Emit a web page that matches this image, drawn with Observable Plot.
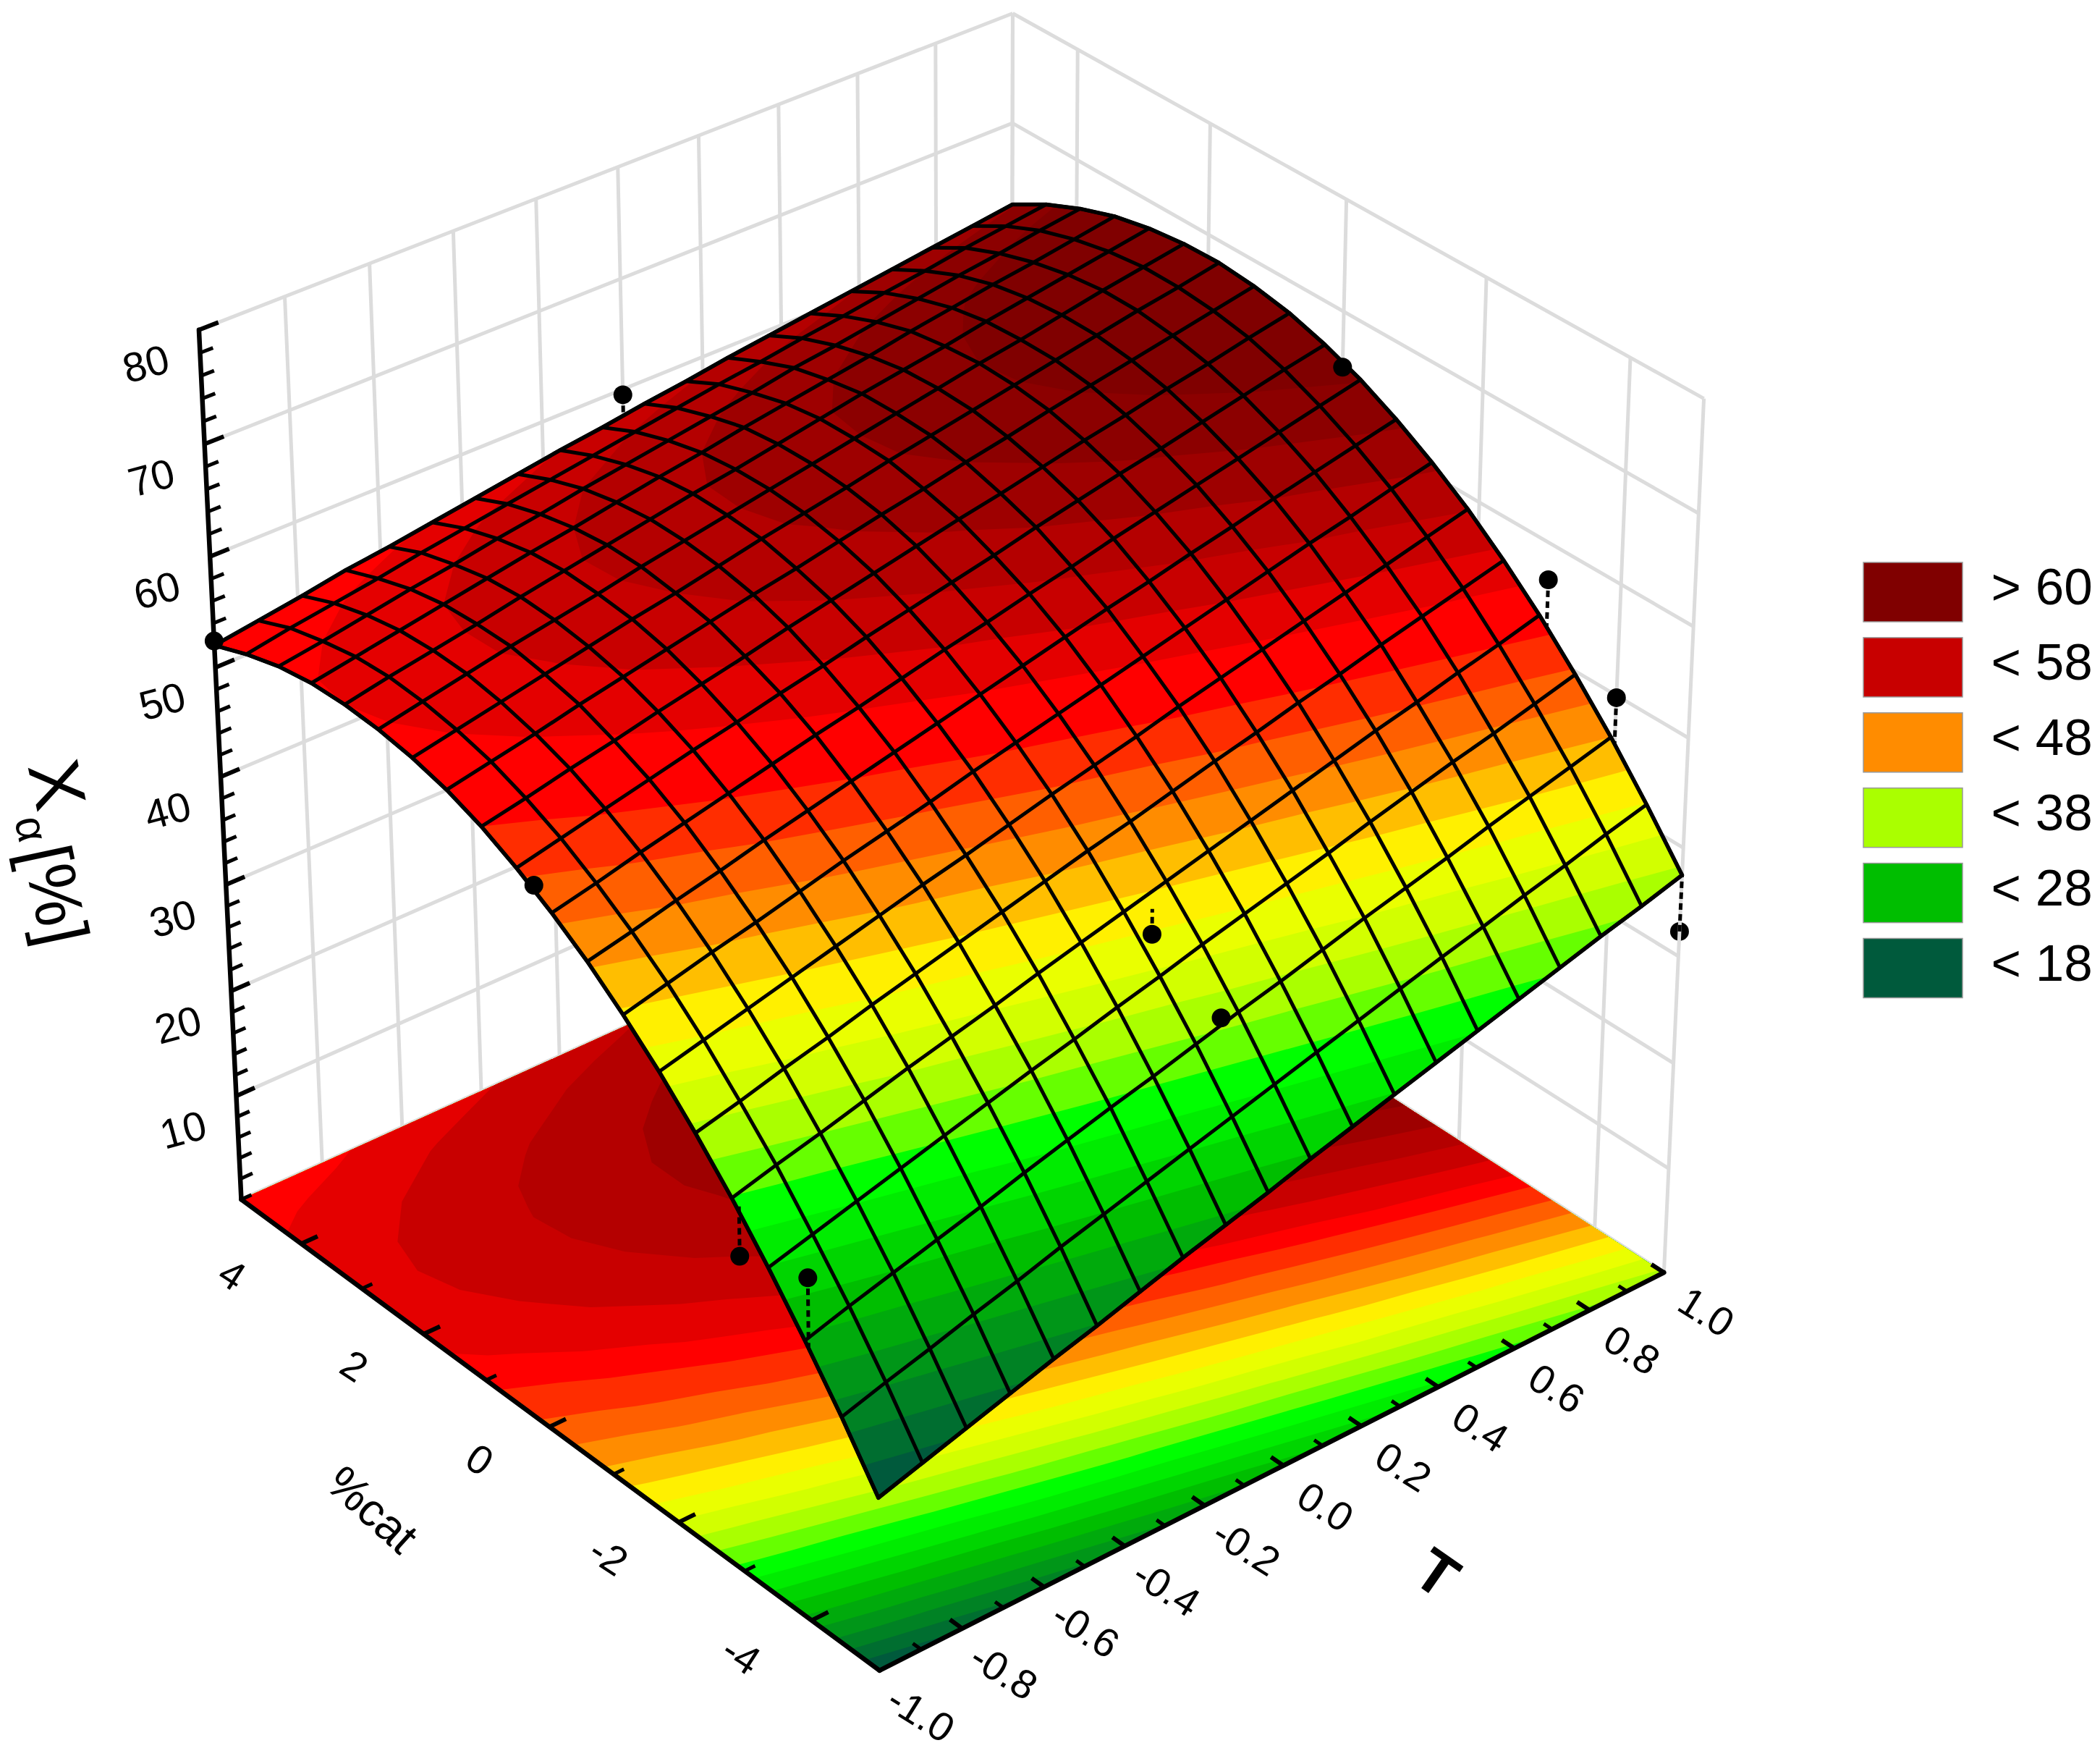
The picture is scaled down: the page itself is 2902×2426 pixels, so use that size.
<!DOCTYPE html>
<html>
<head>
<meta charset="utf-8">
<style>html,body{margin:0;padding:0;background:#fff}svg{display:block}</style>
<script src="https://cdn.jsdelivr.net/npm/d3@7"></script>
<script src="https://cdn.jsdelivr.net/npm/@observablehq/plot@0.6"></script>
</head>
<body>
<div id="chart"></div>
<script>
// ---- Data ----
// Surface heights Xa [%]: one row per T node (T = -1 ... 1), one column per %cat node (-5 ... 5)
const surfaceRows = [
[16.0,21.0,25.6,29.9,33.9,37.5,40.8,43.7,46.3,48.5,50.4,52.0,53.2,54.0,54.5,54.7,54.6,54.1,53.2,52.0],
[17.2,22.2,26.8,31.0,35.0,38.5,41.8,44.7,47.2,49.4,51.3,52.8,54.0,54.8,55.3,55.5,55.3,54.7,53.9,52.6],
[18.4,23.3,27.9,32.1,36.0,39.6,42.8,45.7,48.2,50.4,52.2,53.7,54.8,55.6,56.1,56.2,56.0,55.4,54.5,53.2],
[19.6,24.5,29.0,33.2,37.1,40.6,43.8,46.6,49.1,51.3,53.1,54.5,55.7,56.4,56.9,56.9,56.7,56.1,55.1,53.9],
[20.8,25.6,30.1,34.3,38.2,41.7,44.8,47.6,50.1,52.2,54.0,55.4,56.5,57.2,57.6,57.7,57.4,56.7,55.8,54.4],
[21.9,26.8,31.3,35.4,39.2,42.7,45.8,48.6,51.0,53.1,54.8,56.2,57.3,58.0,58.3,58.4,58.1,57.4,56.4,55.0],
[23.1,27.9,32.4,36.5,40.2,43.7,46.8,49.5,51.9,54.0,55.7,57.0,58.1,58.7,59.1,59.1,58.7,58.0,57.0,55.6],
[24.3,29.0,33.5,37.5,41.3,44.7,47.7,50.4,52.8,54.8,56.5,57.9,58.9,59.5,59.8,59.8,59.4,58.7,57.6,56.2],
[25.4,30.1,34.5,38.6,42.3,45.7,48.7,51.4,53.7,55.7,57.4,58.7,59.6,60.3,60.5,60.5,60.1,59.3,58.2,56.8],
[26.5,31.2,35.6,39.6,43.3,46.7,49.7,52.3,54.6,56.6,58.2,59.5,60.4,61.0,61.2,61.1,60.7,59.9,58.8,57.3],
[27.7,32.3,36.7,40.7,44.3,47.6,50.6,53.2,55.5,57.4,59.0,60.3,61.2,61.7,61.9,61.8,61.4,60.5,59.4,57.9],
[28.8,33.4,37.7,41.7,45.3,48.6,51.5,54.1,56.4,58.3,59.8,61.1,61.9,62.5,62.6,62.5,62.0,61.1,60.0,58.4],
[29.9,34.5,38.8,42.7,46.3,49.6,52.5,55.0,57.3,59.1,60.7,61.8,62.7,63.2,63.3,63.2,62.6,61.8,60.5,59.0],
[31.0,35.6,39.9,43.7,47.3,50.5,53.4,55.9,58.1,60.0,61.5,62.6,63.4,63.9,64.0,63.8,63.2,62.3,61.1,59.5],
[32.1,36.7,40.9,44.8,48.3,51.5,54.3,56.8,59.0,60.8,62.3,63.4,64.2,64.6,64.7,64.4,63.9,62.9,61.6,60.0],
[33.2,37.7,41.9,45.8,49.3,52.4,55.2,57.7,59.8,61.6,63.0,64.1,64.9,65.3,65.3,65.1,64.5,63.5,62.2,60.5],
[34.3,38.8,43.0,46.8,50.2,53.4,56.1,58.6,60.7,62.4,63.8,64.9,65.6,66.0,66.0,65.7,65.1,64.1,62.7,61.0],
[35.4,39.8,44.0,47.7,51.2,54.3,57.0,59.4,61.5,63.2,64.6,65.6,66.3,66.7,66.7,66.3,65.6,64.6,63.3,61.5],
[36.4,40.9,45.0,48.7,52.1,55.2,57.9,60.3,62.3,64.0,65.4,66.4,67.0,67.3,67.3,66.9,66.2,65.2,63.8,62.0],
[37.5,41.9,46.0,49.7,53.1,56.1,58.8,61.1,63.1,64.8,66.1,67.1,67.7,68.0,67.9,67.5,66.8,65.7,64.3,62.5]
];
// Experimental points
const pointT   = [-1, 0, 1, 1, 1, 1, 0, 0, -1, -1, -1];
const pointCat = [ 5, 5, 0,-3,-4,-5,-3,-4,  0, -3, -4];
const pointX   = [52.4,59.5,65.0,56.7,49.8,32.3,40.8,37.3,49.9,29.1,31.5];
const pointFit = [52.4,57.6,65.0,52.4,45.6,37.5,43.1,37.9,49.9,33.6,25.2];
// Colour bands
const floorLevels   = [18,20,22,24,26,28,30,32,34,36,38,40,42,44,46,48,50,52,53.6,55.6,57.6,59.6,61.6,63.6];
const surfaceLevels = [18,20,22,24,26,28,30,32,34,36,38,40,42,44,46,48,50,52,54.7,56.7,58.7,60.7,62.7,64.7];
const bandColors = ["#005a3c","#006e30","#008224","#009618","#00aa0c","#00be00","#00d500","#00ec00","#00ff00","#66ff00","#aaff00","#d2ff00","#eaff00","#fff000","#ffbe00","#ff8c00","#ff5f00","#ff2d00","#ff0000","#e40000","#c80000","#b40000","#9e0000","#8c0000","#800000"];
// Legend
const legendLabels = ["> 60","< 58","< 48","< 38","< 28","< 18"];
const legendColors = ["#800000","#c80000","#ff8c00","#aaff00","#00be00","#005a3c"];
// Axis ticks
const zMajor = [10,20,30,40,50,60,70,80];
const zMinor = [2,4,6,8,12,14,16,18,22,24,26,28,32,34,36,38,42,44,46,48,52,54,56,58,62,64,66,68,72,74,76,78];
const catMajor = [4,2,0,-2,-4];
const catMinor = [5,3,1,-1,-3];
const tMajor = [-0.8,-0.6,-0.4,-0.2,0,0.2,0.4,0.6,0.8,1];
const tMinor = [-0.9,-0.7,-0.5,-0.3,-0.1,0.1,0.3,0.5,0.7,0.9];
const tLabels = ["-1.0","-0.8","-0.6","-0.4","-0.2","0.0","0.2","0.4","0.6","0.8","1.0"];
const tLabelValues = [-1,-0.8,-0.6,-0.4,-0.2,0,0.2,0.4,0.6,0.8,1];
const catLabels = ["4","2","0","-2","-4"];

// ---- Perspective camera fitted to the box of the picture: [T, cat, z] -> [px, py] ----
const camera = [
  [-1, 5, 0, 332,1657],[-1, 5,80, 275, 455],[-1, 5,40, 305,1073],[-1, 5,70, 282, 613],
  [-1,-5, 0,1215,2307],[ 1,-5, 0,2298,1758],[ 1,-5,80,2355, 550],
  [ 1, 5,80,1398,  18],[ 1, 5,70,1398, 170],[ 1, 5, 0,1398,1176]
];
function solveCamera(pts){
  const rows=[],rhs=[];
  for(const [T,c,z,px,py] of pts){
    const X=T,Y=c/5,Z=z/40-1,u=px/1000,v=py/1000;
    rows.push([X,Y,Z,1,0,0,0,0,-u*X,-u*Y,-u*Z]);rhs.push(u);
    rows.push([0,0,0,0,X,Y,Z,1,-v*X,-v*Y,-v*Z]);rhs.push(v);
  }
  const n=11,M=d3.range(n).map(a=>d3.range(n+1).map(b=>{
    let s=0;for(let k=0;k<rows.length;k++)s+=rows[k][a]*(b<n?rows[k][b]:rhs[k]);return s;}));
  for(let a=0;a<n;a++){
    let p=a;for(let r=a+1;r<n;r++)if(Math.abs(M[r][a])>Math.abs(M[p][a]))p=r;
    [M[a],M[p]]=[M[p],M[a]];
    for(let r=0;r<n;r++){if(r===a)continue;const f=M[r][a]/M[a][a];for(let b=a;b<=n;b++)M[r][b]-=f*M[a][b];}
  }
  return M.map((r,a)=>r[n]/r[a]);
}
const h=solveCamera(camera);
function P(T,c,z){
  const X=T,Y=c/5,Z=z/40-1,w=h[8]*X+h[9]*Y+h[10]*Z+1;
  return [1000*(h[0]*X+h[1]*Y+h[2]*Z+h[3])/w,1000*(h[4]*X+h[5]*Y+h[6]*Z+h[7])/w];
}
const N=surfaceRows.length,nodeT=i=>-1+2*i/(N-1),nodeC=j=>-5+10*j/(N-1);
function zAt(j,i){
  const j0=Math.min(Math.floor(j),N-2),i0=Math.min(Math.floor(i),N-2),a=j-j0,b=i-i0;
  return (1-b)*((1-a)*surfaceRows[i0][j0]+a*surfaceRows[i0][j0+1])+b*((1-a)*surfaceRows[i0+1][j0]+a*surfaceRows[i0+1][j0+1]);
}
const row=(id,T,c,z)=>{const p=P(T,c,z);return {id,x:p[0],y:p[1]};};
const seg=(T1,c1,z1,T2,c2,z2)=>{const a=P(T1,c1,z1),b=P(T2,c2,z2);return {x1:a[0],y1:a[1],x2:b[0],y2:b[1]};};

// ---- Bands, on the floor and on the surface ----
const flat=surfaceRows.flat();
const gen=d3.contours().size([N,N]).smooth(true);
function bandRows(onSurface){
  const levels=onSurface?surfaceLevels:floorLevels;
  const clamp=v=>Math.max(0,Math.min(N-1,v-0.5));
  const out=[];
  const whole=[];
  for(let j=0;j<N;j++)whole.push([j,0]);
  for(let i=1;i<N;i++)whole.push([N-1,i]);
  for(let j=N-2;j>=0;j--)whole.push([j,N-1]);
  for(let i=N-2;i>0;i--)whole.push([0,i]);
  const toRow=(id,j,i)=>row(id,nodeT(i),nodeC(j),onSurface?zAt(j,i):0);
  out.push({color:bandColors[0],rows:whole.map(([j,i])=>toRow("b",j,i))});
  levels.forEach((t,k)=>{
    const rows=[];
    gen.contour(flat,t).coordinates.forEach((poly,pi)=>{
      poly[0].forEach(([gx,gy])=>rows.push(toRow("p"+pi,clamp(gx),clamp(gy))));
    });
    out.push({color:bandColors[k+1],rows});
  });
  return out;
}
const bandMarks=list=>list.filter(b=>b.rows.length).map(b=>Plot.line(b.rows,{x:"x",y:"y",z:"id",fill:b.color,stroke:"none"}));

// ---- Mesh ----
const mesh=[],edge=[];
for(let i=0;i<N;i++)for(let j=0;j<N;j++)mesh.push(row("T"+i,nodeT(i),nodeC(j),surfaceRows[i][j]));
for(let j=0;j<N;j++)for(let i=0;i<N;i++)mesh.push(row("C"+j,nodeT(i),nodeC(j),surfaceRows[i][j]));
for(let j=0;j<N;j++)edge.push(row("e",nodeT(0),nodeC(j),surfaceRows[0][j]));
for(let i=1;i<N;i++)edge.push(row("e",nodeT(i),nodeC(N-1),surfaceRows[i][N-1]));
for(let j=N-2;j>=0;j--)edge.push(row("e",nodeT(N-1),nodeC(j),surfaceRows[N-1][j]));
for(let i=N-2;i>=0;i--)edge.push(row("e",nodeT(i),nodeC(0),surfaceRows[i][0]));

// ---- Walls ----
const wallCat=[5,4,2,0,-2,-4,-5];
const wall=[];
[0,...zMajor].forEach(z=>{wall.push(seg(-1,5,z,1,5,z));wall.push(seg(1,5,z,1,-5,z));});
tLabelValues.slice(1).forEach(T=>wall.push(seg(T,5,0,T,5,80)));
wallCat.forEach(c=>wall.push(seg(1,c,0,1,c,80)));

// ---- Points ----
const points=pointT.map((T,k)=>{const p=P(T,pointCat[k],pointX[k]),q=P(T,pointCat[k],pointFit[k]);
  return {x:p[0],y:p[1],x2:q[0],y2:q[1],T,cat:pointCat[k]};});
const hiddenPoint=points.filter(d=>d.T===1&&d.cat===-5);
const shownPoints=points.filter(d=>!(d.T===1&&d.cat===-5));

const ff="'Liberation Sans', Arial, sans-serif";
const legendTop=777,legendStep=103.9,legendH=82;
const legend=legendLabels.map((label,k)=>({label,color:legendColors[k],y1:legendTop+k*legendStep,y2:legendTop+k*legendStep+legendH,ym:legendTop+k*legendStep+legendH/2}));

const zLab=zMajor.map(z=>{const p=P(-1,5,z);return {x:p[0],y:p[1],t:String(z)};});
const catLab=catMajor.map((c,k)=>{const p=P(-1.17,c,0);return {x:p[0],y:p[1],t:catLabels[k]};});
const tLab=tLabelValues.map((T,k)=>{const p=P(T,-5.7,0);return {x:p[0],y:p[1],t:tLabels[k]};});

const chart=Plot.plot({
  width:2902,height:2426,margin:0,
  x:{domain:[0,2902],range:[0,2902],axis:null},
  y:{domain:[0,2426],range:[0,2426],axis:null},
  style:{background:"#fff",fontFamily:ff,color:"#000"},
  marks:[
    Plot.dot(hiddenPoint,{x:"x",y:"y",r:13,fill:"#000"}),
    Plot.link(wall,{x1:"x1",y1:"y1",x2:"x2",y2:"y2",stroke:"#dcdcdc",strokeWidth:5}),
    ...bandMarks(bandRows(false)),
    // axes
    Plot.link([seg(-1,5,0,-1,5,80),seg(-1,5,0,-1,-5,0),seg(-1,-5,0,1,-5,0)],{x1:"x1",y1:"y1",x2:"x2",y2:"y2",stroke:"#000",strokeWidth:6.5,strokeLinecap:"round"}),
    Plot.link(zMajor.map(z=>seg(-1,5,z,-0.955,5,z)),{x1:"x1",y1:"y1",x2:"x2",y2:"y2",stroke:"#000",strokeWidth:6}),
    Plot.link(zMinor.map(z=>seg(-1,5,z,-0.97,5,z)),{x1:"x1",y1:"y1",x2:"x2",y2:"y2",stroke:"#000",strokeWidth:5}),
    Plot.link(catMajor.map(c=>seg(-1,c,0,-0.96,c,0)),{x1:"x1",y1:"y1",x2:"x2",y2:"y2",stroke:"#000",strokeWidth:6}),
    Plot.link(catMinor.map(c=>seg(-1,c,0,-0.975,c,0)),{x1:"x1",y1:"y1",x2:"x2",y2:"y2",stroke:"#000",strokeWidth:5}),
    Plot.link(tMajor.map(T=>seg(T,-5,0,T,-4.82,0)),{x1:"x1",y1:"y1",x2:"x2",y2:"y2",stroke:"#000",strokeWidth:6}),
    Plot.link(tMinor.map(T=>seg(T,-5,0,T,-4.88,0)),{x1:"x1",y1:"y1",x2:"x2",y2:"y2",stroke:"#000",strokeWidth:5}),
    // surface
    ...bandMarks(bandRows(true)),
    Plot.line(mesh,{x:"x",y:"y",z:"id",stroke:"#000",strokeWidth:5,strokeLinejoin:"round"}),
    Plot.line(edge,{x:"x",y:"y",z:"id",stroke:"#000",strokeWidth:5.5,strokeLinejoin:"round"}),
    // points and their distance to the surface
    Plot.link(points,{x1:"x",y1:"y",x2:"x2",y2:"y2",stroke:"#000",strokeWidth:5,strokeDasharray:"9,6"}),
    Plot.dot(shownPoints,{x:"x",y:"y",r:13,fill:"#000"}),
    // tick labels and titles
    Plot.text(zLab,{x:"x",y:"y",text:"t",dx:-73,dy:48,rotate:-15,fontSize:57,fill:"#000"}),
    Plot.text(catLab,{x:"x",y:"y",text:"t",rotate:33,fontSize:56,fill:"#000"}),
    Plot.text(tLab,{x:"x",y:"y",text:"t",dx:-10,dy:12,rotate:32,fontSize:56,fill:"#000"}),
    Plot.text([{x:513,y:2086}],{x:"x",y:"y",text:()=>"%cat",rotate:42,fontSize:64,fill:"#000"}),
    Plot.text([{x:1984,y:2175}],{x:"x",y:"y",text:()=>"T",rotate:35,fontSize:84,fill:"#000",fontWeight:"bold"}),
    Plot.text([{x:76,y:1084}],{x:"x",y:"y",text:()=>"X",rotate:78,fontSize:100,fill:"#000"}),
    Plot.text([{x:42,y:1145}],{x:"x",y:"y",text:()=>"α",rotate:78,fontSize:60,fill:"#000"}),
    Plot.text([{x:74,y:1236}],{x:"x",y:"y",text:()=>"[%]",rotate:78,fontSize:95,fill:"#000"}),
    // legend
    Plot.rect(legend,{x1:()=>2575,x2:()=>2712,y1:"y1",y2:"y2",fill:"color",stroke:"#999",strokeWidth:1.5}),
    Plot.text(legend,{x:()=>2751,y:"ym",dy:-6,text:"label",textAnchor:"start",fontSize:71,fill:"#000"})
  ],
  color:{type:"identity"}
});
document.getElementById("chart").append(chart);
</script>
</body>
</html>
